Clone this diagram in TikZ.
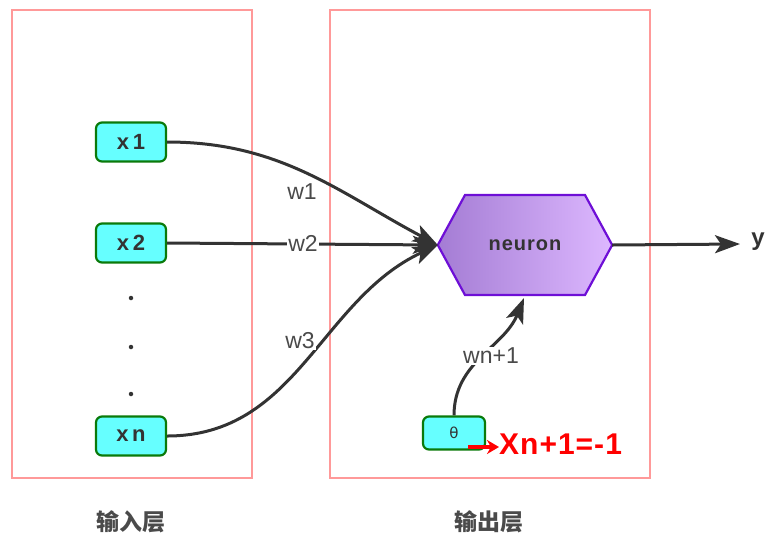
\documentclass[tikz,border=0pt]{standalone}
\usepackage{fontspec}
\setmainfont{Liberation Sans}
\newfontfamily\cjk{Noto Sans CJK SC}
\newfontfamily\dejavu{DejaVu Sans}
\usetikzlibrary{arrows.meta}
\definecolor{boxpink}{HTML}{FF9999}
\definecolor{nodecyan}{HTML}{66FFFF}
\definecolor{nodegreen}{HTML}{0A7A0A}
\definecolor{linegray}{HTML}{333333}
\definecolor{txtgray}{HTML}{4A4A4A}
\definecolor{hexborder}{HTML}{6E0FD6}
\definecolor{hexleft}{HTML}{A47CD4}
\definecolor{hexright}{HTML}{DDB8FF}
\tikzset{
  layerbox/.style={draw=boxpink, line width=2pt},
  innode/.style={draw=nodegreen, fill=nodecyan, line width=2.2pt, rounded corners=6pt,
    minimum width=70pt, minimum height=39pt, inner sep=0pt,
    font=\fontsize{22}{22}\selectfont\bfseries, text=linegray},
  conn/.style={draw=linegray, line width=3pt, -{Stealth[length=25pt,width=18pt,inset=6pt]}},
  wlabel/.style={fill=white, inner sep=1pt, font=\fontsize{23}{23}\selectfont, text=txtgray},
  layerlabel/.style={font=\cjk\bfseries\fontsize{23}{23}\selectfont, text=txtgray},
  dotnode/.style={circle, fill=linegray, inner sep=0pt, minimum size=4.5pt}
}
\begin{document}
\begin{tikzpicture}[x=1pt,y=-1pt]
\useasboundingbox (0,0) rectangle (768,542);
% layer boxes
\draw[layerbox] (12,10) rectangle (252,478);
\draw[layerbox] (330,10) rectangle (650,478);
% input nodes
\node[innode] (x1) at (131,142) {x\,1};
\node[innode] (x2) at (131,243) {x\,2};
\node[innode] (xn) at (131,436) {x\,n};
\node[dotnode] (d1) at (131,298) {};
\node[dotnode] (d2) at (131,347) {};
\node[dotnode] (d3) at (131,394) {};
% neuron hexagon
\node[minimum width=174pt, minimum height=100pt, inner sep=0pt] (neuron) at (525,245) {};
\path[left color=hexleft, right color=hexright, draw=hexborder, line width=2.2pt]
  (neuron.west) -- (465,195) -- (585,195) -- (neuron.east) -- (585,295) -- (465,295) -- cycle;
\node[font=\fontsize{20}{20}\selectfont\bfseries, text=linegray] (neurontxt) at (525,245) {n\kern1pt e\kern1pt u\kern1pt r\kern1pt o\kern1pt n};
% output
\coordinate (yend) at (740,244);
\node[font=\fontsize{24}{24}\selectfont\bfseries, text=linegray] (y) at (758,242) {y};
\draw[conn] (neuron.east) -- (yend);
% connections
\draw[conn] (x1.east) to[out=0,in=152] (neuron.west);
\draw[conn] (x2.east) -- (neuron.west);
\draw[conn] (xn.east) to[out=0,in=205] (neuron.west);
\node[wlabel] (w1) at (302,192) {w1};
\node[wlabel] (w2) at (303,243) {w2};
\node[wlabel] (w3) at (300,341) {w3};
% theta
\node[innode, minimum width=62pt, minimum height=33pt, font=\dejavu\fontsize{15}{15}\selectfont] (theta) at (454,433) {θ};
\coordinate (nb) at (524,298);
\draw[conn] (theta.north) to[out=90,in=-112] (nb);
\node[wlabel] (wn) at (491,356) {wn+1};
% red arrow and label
\coordinate (ra) at (468,447);
\node[anchor=west, inner sep=0pt, font=\fontsize{30}{30}\selectfont\bfseries, text=red] (xn1) at (499,444) {X\kern1pt n\kern1pt +\kern1pt 1\kern1pt =\kern1pt -\kern1pt 1};
\draw[red, line width=3.5pt, -{Stealth[length=12pt,width=14pt]}] (ra) -- (xn1.west |- ra);
% layer labels
\node[layerlabel] (inlbl) at (131,522) {输入层};
\node[layerlabel] (outlbl) at (489,522) {输出层};
\end{tikzpicture}
\end{document}
